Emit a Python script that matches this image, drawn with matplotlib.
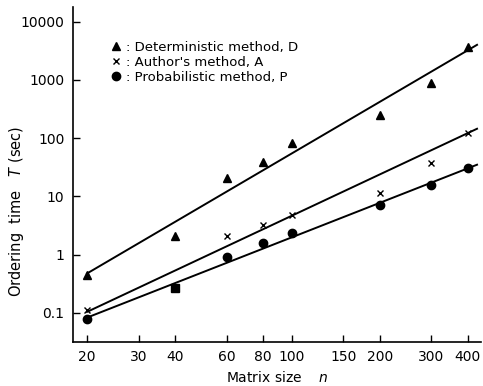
import matplotlib
matplotlib.use("Agg")
import matplotlib.pyplot as plt
from matplotlib.lines import Line2D

# measured points
n_D = [20, 40, 60, 80, 100, 200, 300, 400]
T_D = [0.44, 2.1, 20.4, 39, 81, 250, 900, 3700]

n_A = [20, 60, 80, 100, 200, 300, 400]
T_A = [0.111, 2.1, 3.2, 4.8, 11.3, 38, 121]

n_P = [20, 40, 60, 80, 100, 200, 300, 400]
T_P = [0.080, 0.27, 0.92, 1.56, 2.4, 7.1, 15.6, 30.3]

# fitted straight lines (end points)
fit_n = [20, 430]
fit_D = [0.475, 4000]
fit_A = [0.104, 145]
fit_P = [0.083, 35]

x_ticks = [20, 30, 40, 60, 80, 100, 150, 200, 300, 400]
y_ticks = [0.1, 1, 10, 100, 1000, 10000]
y_labels = ["0.1", "1", "10", "100", "1000", "10000"]

plt.rcParams["font.family"] = ["DejaVu Sans"]

fig = plt.figure(figsize=(4.83, 3.86), dpi=100)
ax = fig.add_axes([0.1505, 0.1147, 0.845, 0.867])

lw = 1.4
ax.plot(fit_n, fit_D, color="black", lw=lw)
ax.plot(fit_n, fit_A, color="black", lw=lw)
ax.plot(fit_n, fit_P, color="black", lw=lw)

ax.plot(n_D, T_D, ls="none", marker="^", ms=5.5, color="black")
ax.plot(n_A, T_A, ls="none", marker="x", ms=5, mew=1.0, color="black")
p_circ = [i for i in range(len(n_P)) if n_P[i] != 40]
ax.plot([n_P[i] for i in p_circ], [T_P[i] for i in p_circ], ls="none",
        marker="o", ms=6, color="black")
ax.plot([n_P[1]], [T_P[1]], ls="none", marker="s", ms=5.5, color="black")

ax.set_xscale("log")
ax.set_yscale("log")
ax.set_xlim(17.87, 443)
ax.set_ylim(0.032, 17800)

ax.set_xticks(x_ticks)
ax.set_xticklabels([str(v) for v in x_ticks], fontsize=10)
ax.set_yticks(y_ticks)
ax.set_yticklabels(y_labels, fontsize=10)
ax.minorticks_off()
ax.tick_params(direction="in", length=5, width=1, pad=6)

for side in ["top", "right"]:
    ax.spines[side].set_visible(False)
for side in ["left", "bottom"]:
    ax.spines[side].set_linewidth(1.2)

ax.set_xlabel("Matrix size    $n$", fontsize=10, labelpad=4)
ax.set_ylabel("Ordering  time   $T$ (sec)", fontsize=10.5)
ax.yaxis.set_label_coords(-0.115, 0.39)

handles = [
    Line2D([], [], ls="none", marker="^", ms=5.5, color="black"),
    Line2D([], [], ls="none", marker="x", ms=5, mew=1.0, color="black"),
    Line2D([], [], ls="none", marker="o", ms=6, color="black"),
]
labels = [": Deterministic method, D", ": Author's method, A",
          ": Probabilistic method, P"]
ax.legend(handles, labels, loc="upper left", bbox_to_anchor=(0.08, 0.918),
          frameon=False, fontsize=9.5, handlelength=0.6, handletextpad=0.5,
          labelspacing=0.15, borderpad=0)

fig.savefig("out.png", dpi=100)
